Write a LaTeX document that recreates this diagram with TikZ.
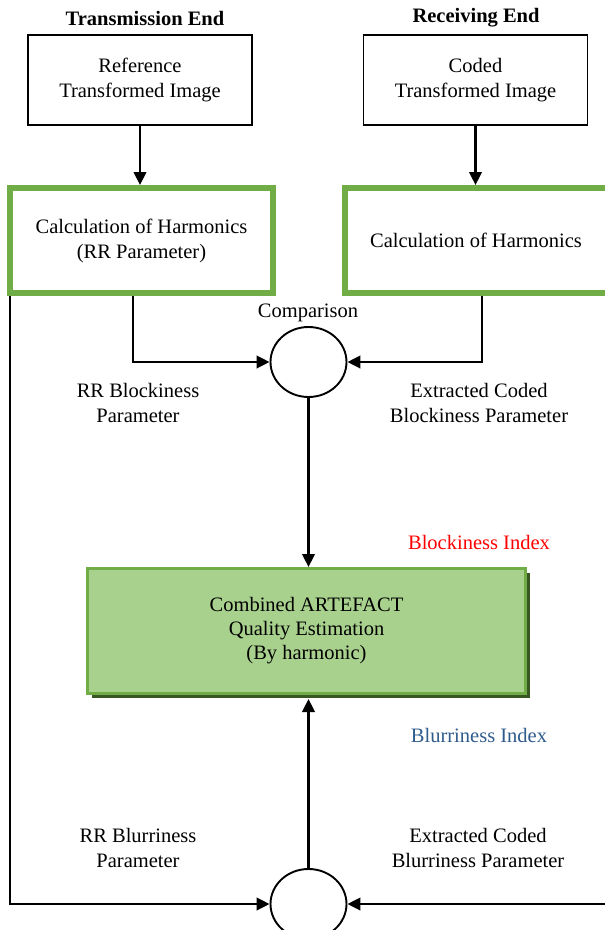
\documentclass[tikz,border=0pt]{standalone}
\usepackage{fontspec}
\setmainfont{Liberation Serif}
\usetikzlibrary{arrows.meta,shapes.geometric,shadows}
\definecolor{gborder}{HTML}{70AD47}
\definecolor{gfill}{HTML}{A9D18E}
\definecolor{gshadow}{HTML}{385723}
\definecolor{blueidx}{HTML}{2F5B8C}
\tikzset{
  txt/.style={font=\fontsize{20.5}{25}\selectfont, align=center, inner sep=0pt},
  plainbox/.style={txt, draw=black, line width=1.8pt, minimum width=224pt, minimum height=90pt},
  greenbox/.style={txt, draw=gborder, line width=6pt, minimum width=263pt, minimum height=105pt},
  combbox/.style={font=\fontsize{20.5}{24}\selectfont, align=center, inner sep=0pt, draw=gborder, line width=3pt, fill=gfill,
     minimum width=438pt, minimum height=125pt,
     general shadow={fill=gshadow, shadow xshift=4pt, shadow yshift=-4pt}},
  cmp/.style={ellipse, draw=black, line width=1.9pt, minimum width=76pt, minimum height=70pt, inner sep=0pt},
  conn/.style={line width=2.5pt, draw=black},
  arr/.style={conn, -{Triangle[length=13pt,width=12.5pt]}},
}
\begin{document}
\begin{tikzpicture}[x=1pt,y=-1pt]
\useasboundingbox (0,0) rectangle (605,930);
% headers
\node[txt, font=\bfseries\fontsize{20.5}{25}\selectfont] (th) at (145,18) {Transmission End};
\node[txt, font=\bfseries\fontsize{20.5}{25}\selectfont] (rh) at (476,18) {Receiving End};
% top boxes
\node[plainbox] (ref) at (140,80) {Reference\\Transformed Image};
\node[plainbox] (cod) at (475.5,80) {Coded\\Transformed Image};
% green boxes
\node[greenbox] (lg) at (141.5,240.5) {Calculation of Harmonics\\(RR Parameter)};
\node[greenbox] (rg) at (476,240.5) {Calculation of Harmonics};
% comparison circles
\node[cmp] (c1) at (308.5,362) {};
\node[txt] (cmplbl) at (308,313) {Comparison};
\node[cmp] (c2) at (308.5,904) {};
% combined box
\node[combbox] (comb) at (306.5,631) {Combined ARTEFACT\\Quality Estimation\\(By harmonic)};
% labels
\node[txt] (rrb) at (138,403) {RR Blockiness\\Parameter};
\node[txt] (ecb) at (479,403) {Extracted Coded\\Blockiness Parameter};
\node[txt, text=red] (bi) at (479,542) {Blockiness Index};
\node[txt, text=blueidx] (bli) at (479,735) {Blurriness Index};
\node[txt] (rrbl) at (138,848) {RR Blurriness\\Parameter};
\node[txt] (ecbl) at (478,848) {Extracted Coded\\Blurriness Parameter};
% coordinates for free ends
\coordinate (l1) at (133,296);
\coordinate (r1) at (482,296);
\coordinate (bl) at (10,296);
\coordinate (br) at (607,904);
% connectors
\draw[arr] (ref.south) -- (ref.south |- lg.north);
\draw[arr] (cod.south) -- (cod.south |- rg.north);
\draw[arr] (l1) |- (c1.west);
\draw[arr] (r1) |- (c1.east);
\draw[arr] (c1.south) -- (c1.south |- comb.north);
\draw[arr] (c2.north) -- ([yshift=-4pt]c2.north |- comb.south);
\draw[arr] (bl) |- (c2.west);
\draw[arr] (br) -- (c2.east);
\end{tikzpicture}
\end{document}
